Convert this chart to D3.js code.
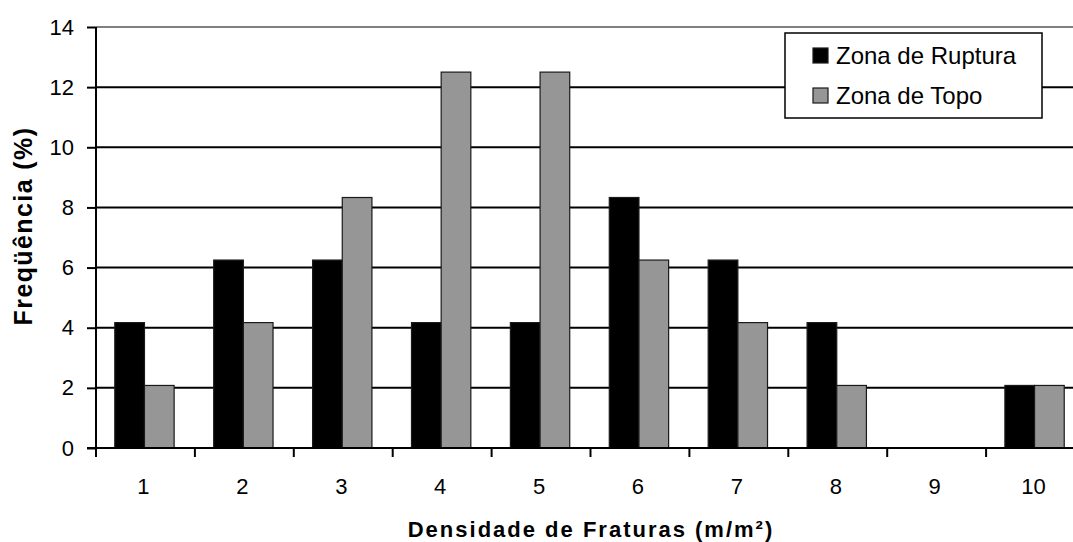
<!DOCTYPE html>
<html>
<head>
<meta charset="utf-8">
<script src="https://cdn.jsdelivr.net/npm/d3@7"></script>
<style>
  html, body { margin: 0; padding: 0; background: #fff; }
  svg { display: block; font-family: "Liberation Sans", Arial, sans-serif; }
</style>
</head>
<body>
<svg id="chart" width="1073" height="542"></svg>
<script>
const categories = ["1","2","3","4","5","6","7","8","9","10"];
const seriesNames = ["Zona de Ruptura", "Zona de Topo"];
const ruptura = [4.17, 6.25, 6.25, 4.17, 4.17, 8.33, 6.25, 4.17, 0, 2.08];
const topo    = [2.08, 4.17, 8.33, 12.5, 12.5, 6.25, 4.17, 2.08, 0, 2.08];
const yTicks = [0, 2, 4, 6, 8, 10, 12, 14];
const colors = ["#000000", "#969696"];

const svg = d3.select("#chart");
const pLeft = 96, pTop = 27, pBottom = 448, pRight = 1085;

const x = d3.scaleBand().domain(categories).range([pLeft, pRight]).paddingInner(0).paddingOuter(0);
const y = d3.scaleLinear().domain([0, 14]).range([pBottom, pTop]);

const groupStart = 0.19 * x.bandwidth();
const barW = 0.30 * x.bandwidth();

// gridlines
svg.append("g").selectAll("line").data(yTicks.filter(t => t > 0)).join("line")
  .attr("x1", pLeft).attr("x2", 1073)
  .attr("y1", d => y(d)).attr("y2", d => y(d))
  .attr("stroke", d => d === 14 ? "#808080" : "#000")
  .attr("stroke-width", 2);

// bars
const data = categories.map((c, i) => ({ c, vals: [ruptura[i], topo[i]] }));
const g = svg.append("g");
data.forEach(d => {
  d.vals.forEach((v, j) => {
    if (v <= 0) return;
    g.append("rect")
      .attr("x", x(d.c) + groupStart + j * barW)
      .attr("y", y(v))
      .attr("width", barW)
      .attr("height", y(0) - y(v))
      .attr("fill", colors[j])
      .attr("stroke", "#1a1a1a")
      .attr("stroke-width", 1.2);
  });
});

// y axis
const yAxis = d3.axisLeft(y).tickValues(yTicks).tickSize(9).tickPadding(13).tickFormat(d3.format("d"));
const ya = svg.append("g").attr("transform", `translate(${pLeft},0)`).call(yAxis);
ya.select(".domain").remove();
ya.selectAll(".tick line").attr("stroke", "#000").attr("stroke-width", 2);
ya.selectAll(".tick text").attr("font-size", 22).attr("fill", "#000").attr("font-family", "Liberation Sans, Arial, sans-serif");
svg.append("line").attr("x1", pLeft).attr("x2", pLeft).attr("y1", pTop).attr("y2", pBottom + 1).attr("stroke", "#000").attr("stroke-width", 2);

// x axis
const xa = svg.append("g").attr("transform", `translate(0,${pBottom})`);
xa.append("line").attr("x1", pLeft - 9).attr("x2", 1073).attr("y1", 0).attr("y2", 0).attr("stroke", "#000").attr("stroke-width", 2);
const boundaries = d3.range(0, categories.length + 1).map(i => pLeft + i * x.bandwidth());
xa.selectAll("line.tk").data(boundaries).join("line").attr("class", "tk")
  .attr("x1", d => d).attr("x2", d => d).attr("y1", 0).attr("y2", 9)
  .attr("stroke", "#000").attr("stroke-width", 2);
xa.selectAll("text").data(categories).join("text")
  .attr("x", d => x(d) + x.bandwidth() / 2 - 2)
  .attr("y", 46)
  .attr("text-anchor", "middle")
  .attr("font-size", 22)
  .text(d => d);

// axis titles
svg.append("text")
  .attr("x", 591).attr("y", 537)
  .attr("text-anchor", "middle")
  .attr("font-size", 22).attr("font-weight", "bold")
  .attr("letter-spacing", 2)
  .text("Densidade de Fraturas (m/m²)");
svg.append("text")
  .attr("transform", "translate(32,226) rotate(-90)")
  .attr("text-anchor", "middle")
  .attr("font-size", 25).attr("font-weight", "bold")
  .attr("letter-spacing", 1.4)
  .text("Freqüência (%)");

// legend
const lg = svg.append("g");
lg.append("rect").attr("x", 785).attr("y", 33).attr("width", 257).attr("height", 85)
  .attr("fill", "#fff").attr("stroke", "#000").attr("stroke-width", 1.5);
seriesNames.forEach((s, i) => {
  const yy = 48 + i * 40;
  lg.append("rect").attr("x", 813).attr("y", yy).attr("width", 15).attr("height", 15)
    .attr("fill", colors[i]).attr("stroke", "#1a1a1a").attr("stroke-width", 1.2);
  lg.append("text").attr("x", 836).attr("y", yy + 16).attr("font-size", 24).text(s);
});
</script>
</body>
</html>
